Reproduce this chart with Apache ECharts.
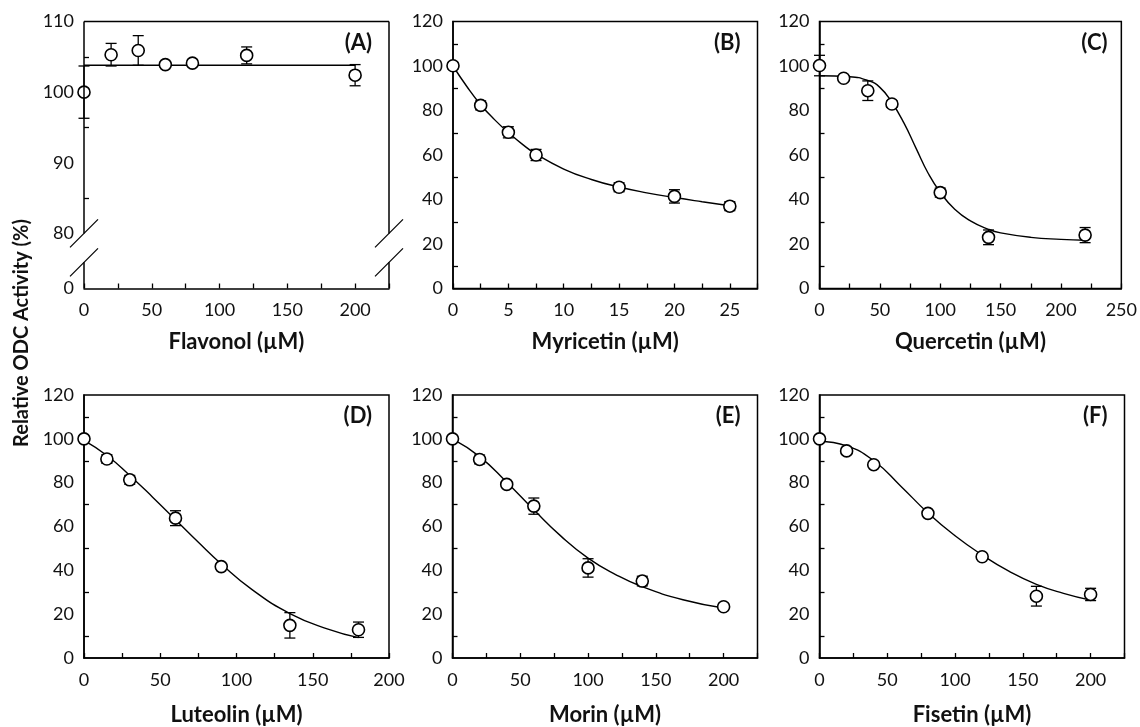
<!DOCTYPE html>
<html>
<head>
<meta charset="utf-8">
<script src="https://cdn.jsdelivr.net/npm/echarts@6/dist/echarts.min.js"></script>
<style>
html,body{margin:0;padding:0;background:#fff;}
#chart{width:1140px;height:727px;}
</style>
</head>
<body>
<div id="chart"></div>
<script>
// ---------- data ----------
// (A) Flavonol
const flavonolX = [0, 20, 40, 60, 80, 120, 200];
const flavonolY = [100, 105.3, 105.9, 103.9, 104.1, 105.2, 102.4];
const flavonolErr = [3.7, 1.6, 2.1, 0.4, 0.4, 1.2, 1.5];
const flavonolFitX = [0, 200];
const flavonolFitY = [103.8, 103.8];

// (B) Myricetin
const myricetinX = [0, 2.5, 5, 7.5, 15, 20, 25];
const myricetinY = [100.1, 82.3, 70.2, 60, 45.5, 41.4, 37];
const myricetinErr = [1.5, 2, 2.5, 2.5, 2, 3, 2];
const myricetinFitX = [0, 1.25, 2.5, 3.75, 5, 6.25, 7.5, 10, 12.5, 15, 17.5, 20, 22.5, 25];
const myricetinFitY = [100, 90.8, 82.6, 75.9, 70.1, 64.9, 60.4, 53.7, 49, 45.6, 43, 40.9, 39, 37.2];

// (C) Quercetin
const quercetinX = [0, 20, 40, 60, 100, 140, 220];
const quercetinY = [100.2, 94.5, 88.9, 82.9, 43.1, 23, 24];
const quercetinErr = [4.6, 1.2, 4.4, 1.5, 2, 3.3, 3.4];
const quercetinFitX = [0, 25, 40, 50, 60, 70, 80, 90, 100, 112, 125, 140, 150, 175, 200, 220];
const quercetinFitY = [95.6, 95.2, 93.5, 90.4, 83.6, 74.3, 63, 51.8, 43.2, 35.6, 30.4, 26.6, 25, 23, 22.1, 21.7];

// (D) Luteolin
const luteolinX = [0, 15, 30, 60, 90, 135, 180];
const luteolinY = [100, 90.8, 81.3, 63.8, 41.7, 14.9, 12.9];
const luteolinErr = [1.2, 2, 2, 3.4, 1, 5.8, 3.5];
const luteolinFitX = [0, 15, 30, 45, 60, 75, 90, 110, 135, 160, 180];
const luteolinFitY = [99.3, 92.4, 83.3, 73.4, 63.1, 52.8, 42.9, 31.3, 20.3, 13.2, 9.3];

// (E) Morin
const morinX = [0, 20, 40, 60, 100, 140, 200];
const morinY = [100, 90.6, 79.2, 69.3, 41.1, 35.1, 23.4];
const morinErr = [1, 2, 1, 3.7, 4.2, 2.2, 1.5];
const morinFitX = [0, 20, 40, 60, 80, 100, 120, 140, 170, 200];
const morinFitY = [100, 91.9, 80.2, 67.6, 55.6, 45.6, 38.2, 32.5, 26.6, 22.8];

// (F) Fisetin
const fisetinX = [0, 20, 40, 80, 120, 160, 200];
const fisetinY = [100, 94.5, 88.2, 66, 46.2, 28.2, 29];
const fisetinErr = [1, 1, 1, 1, 1, 4.5, 2.8];
const fisetinFitX = [0, 20, 40, 60, 80, 100, 120, 140, 160, 180, 200];
const fisetinFitY = [98.8, 96.8, 90, 78.4, 66.2, 55.8, 47, 39.5, 33.6, 29.5, 26.4];

// axis tick labels
const panelLabels = ['(A)', '(B)', '(C)', '(D)', '(E)', '(F)'];
const xTitles = ['Flavonol (\u00B5M)', 'Myricetin (\u00B5M)', 'Quercetin (\u00B5M)', 'Luteolin (\u00B5M)', 'Morin (\u00B5M)', 'Fisetin (\u00B5M)'];
const yTitle = 'Relative ODC Activity (%)';
const yTicksBroken = [72.2, 80, 90, 100, 110];   // bottom value (72.2) labelled "0"
const yTicksBrokenText = ['0', '80', '90', '100', '110'];
const yMinorBroken = [85, 95, 105];
const yMinorStd = [10, 30, 50, 70, 90, 110];

// ---------- layout ----------
const FONT = 'Lato, "Open Sans", "DejaVu Sans", sans-serif';
const grids = [
  {left: 84, top: 21.5, width: 305, height: 267},
  {left: 453, top: 21.5, width: 304.5, height: 267},
  {left: 819.5, top: 21.5, width: 305, height: 267},
  {left: 84, top: 395, width: 305, height: 266.5},
  {left: 452.5, top: 395, width: 305, height: 266.5},
  {left: 819.5, top: 395, width: 305, height: 266.5}
];
const panels = [
  {x: flavonolX, y: flavonolY, e: flavonolErr, fx: flavonolFitX, fy: flavonolFitY, xMax: 225, xInt: 25, xLab: 50},
  {x: myricetinX, y: myricetinY, e: myricetinErr, fx: myricetinFitX, fy: myricetinFitY, xMax: 27.5, xInt: 2.5, xLab: 5},
  {x: quercetinX, y: quercetinY, e: quercetinErr, fx: quercetinFitX, fy: quercetinFitY, xMax: 250, xInt: 25, xLab: 50},
  {x: luteolinX, y: luteolinY, e: luteolinErr, fx: luteolinFitX, fy: luteolinFitY, xMax: 200, xInt: 25, xLab: 50},
  {x: morinX, y: morinY, e: morinErr, fx: morinFitX, fy: morinFitY, xMax: 225, xInt: 25, xLab: 50},
  {x: fisetinX, y: fisetinY, e: fisetinErr, fx: fisetinFitX, fy: fisetinFitY, xMax: 225, xInt: 25, xLab: 50}
];

const BLACK = '#000';
const TXT = '#111';

function errRender(params, api) {
  const x = api.value(0), y = api.value(1), e = api.value(2);
  const t = api.coord([x, y + e]);
  const b = api.coord([x, y - e]);
  const w = 5.5;
  const st = {stroke: BLACK, lineWidth: 1.3};
  return {type: 'group', children: [
    {type: 'line', shape: {x1: t[0], y1: t[1], x2: b[0], y2: b[1]}, style: st},
    {type: 'line', shape: {x1: t[0] - w, y1: t[1], x2: t[0] + w, y2: t[1]}, style: st},
    {type: 'line', shape: {x1: b[0] - w, y1: b[1], x2: b[0] + w, y2: b[1]}, style: st}
  ]};
}

// frame with broken y axis for panel A
const A_YMIN = 72.2, A_YMAX = 110, A_BRK_HI = 80, A_BRK_LO = 75.9, A_XMAX = 225;
function frameRender(params, api) {
  const st = {stroke: BLACK, lineWidth: 1.5};
  const ch = [];
  const seg = (p, q) => ch.push({type: 'line', shape: {x1: p[0], y1: p[1], x2: q[0], y2: q[1]}, style: st});
  [0, A_XMAX].forEach(xv => {
    seg(api.coord([xv, A_YMAX]), api.coord([xv, A_BRK_HI]));
    seg(api.coord([xv, A_BRK_LO]), api.coord([xv, A_YMIN]));
    [A_BRK_HI, A_BRK_LO].forEach(yv => {
      const c = api.coord([xv, yv]);
      ch.push({type: 'line', shape: {x1: c[0] - 14, y1: c[1] + 14, x2: c[0] + 14, y2: c[1] - 14},
               style: {stroke: BLACK, lineWidth: 1.3}});
    });
  });
  seg(api.coord([0, A_YMAX]), api.coord([A_XMAX, A_YMAX]));
  return {type: 'group', children: ch};
}

const xAxes = [], yAxes = [], series = [], gridOpts = [], graphics = [];
panels.forEach((p, i) => {
  const g = grids[i];
  gridOpts.push({left: g.left, top: g.top, width: g.width, height: g.height,
    show: i !== 0, borderColor: BLACK, borderWidth: 1.5, backgroundColor: 'transparent'});
  xAxes.push({
    gridIndex: i, type: 'value', min: 0, max: p.xMax, interval: p.xInt,
    axisLine: {show: true, onZero: false, lineStyle: {color: BLACK, width: 1.5}},
    axisTick: {show: true, inside: true, length: 5, lineStyle: {color: BLACK, width: 1.3}},
    axisLabel: {margin: 13, fontSize: 18, color: TXT, fontFamily: FONT,
      formatter: v => (Math.abs(v / p.xLab - Math.round(v / p.xLab)) < 1e-9 ? String(v) : '')},
    splitLine: {show: false},
    name: xTitles[i], nameLocation: 'middle', nameGap: i < 3 ? 42 : 46,
    nameTextStyle: {fontSize: 22, fontWeight: 'bold', color: TXT, fontFamily: FONT}
  });
  if (i === 0) {
    yAxes.push({
      gridIndex: i, type: 'value', min: A_YMIN, max: A_YMAX,
      axisLine: {show: false},
      axisTick: {show: true, inside: true, length: 5, customValues: yMinorBroken, lineStyle: {color: BLACK, width: 1.3}},
      axisLabel: {margin: 10, fontSize: 18, color: TXT, fontFamily: FONT, customValues: yTicksBroken,
        formatter: v => yTicksBrokenText[yTicksBroken.indexOf(v)] ?? String(v)},
      splitLine: {show: false}
    });
  } else {
    yAxes.push({
      gridIndex: i, type: 'value', min: 0, max: 120, interval: 20,
      axisLine: {show: true, lineStyle: {color: BLACK, width: 1.5}},
      axisTick: {show: true, inside: true, length: 5, customValues: yMinorStd, lineStyle: {color: BLACK, width: 1.3}},
      axisLabel: {margin: 10, fontSize: 18, color: TXT, fontFamily: FONT},
      splitLine: {show: false}
    });
  }
  series.push({
    type: 'custom', xAxisIndex: i, yAxisIndex: i, z: 2, silent: true,
    renderItem: errRender, encode: {x: 0, y: 1},
    data: p.x.map((xv, k) => [xv, p.y[k], p.e[k]])
  });
  series.push({
    type: 'line', xAxisIndex: i, yAxisIndex: i, z: 3, silent: true,
    smooth: 0.5, showSymbol: false, symbol: 'none',
    lineStyle: {color: BLACK, width: 1.4},
    data: p.fx.map((xv, k) => [xv, p.fy[k]])
  });
  series.push({
    type: 'scatter', xAxisIndex: i, yAxisIndex: i, z: 4, silent: true,
    symbol: 'circle', symbolSize: 12,
    itemStyle: {color: '#fff', borderColor: BLACK, borderWidth: 1.6, opacity: 1},
    data: p.x.map((xv, k) => [xv, p.y[k]])
  });
  graphics.push({
    type: 'text', x: g.left + g.width - 17, y: g.top + 21,
    style: {text: panelLabels[i], font: 'bold 22px ' + FONT, fill: TXT, textAlign: 'right', textVerticalAlign: 'middle'}
  });
});
series.push({
  type: 'custom', xAxisIndex: 0, yAxisIndex: 0, z: 5, silent: true, clip: false,
  renderItem: frameRender, encode: {x: 0, y: 1}, data: [[0, A_YMAX]]
});
graphics.push({
  type: 'text', x: 22, y: 333, rotation: Math.PI / 2,
  style: {text: yTitle, font: 'bold 20px ' + FONT, fill: TXT, textAlign: 'center', textVerticalAlign: 'middle'}
});

const chart = echarts.init(document.getElementById('chart'), null, {renderer: 'canvas'});
chart.setOption({
  animation: false,
  backgroundColor: '#fff',
  grid: gridOpts,
  xAxis: xAxes,
  yAxis: yAxes,
  series: series,
  graphic: graphics
});
</script>
</body>
</html>
